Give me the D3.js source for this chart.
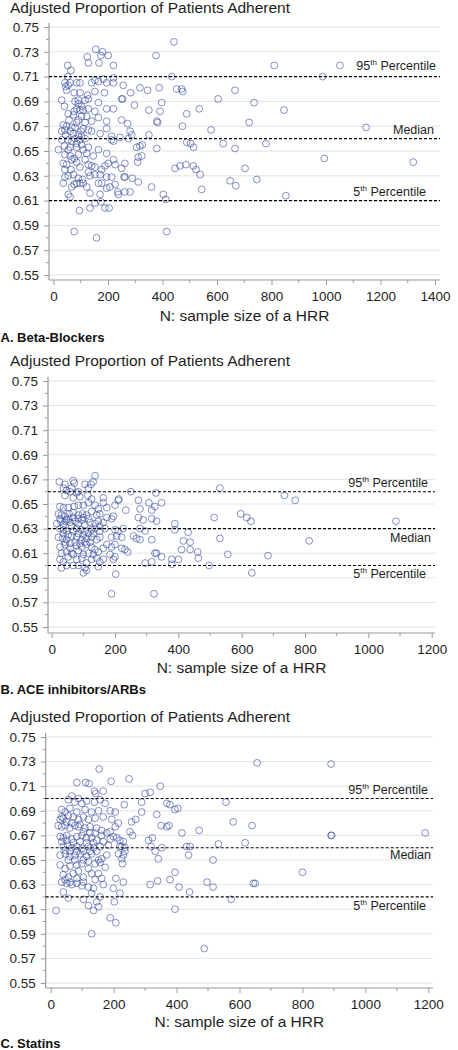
<!DOCTYPE html>
<html><head><meta charset="utf-8">
<script src="https://cdn.jsdelivr.net/npm/d3@7"></script>
<style>body{margin:0;background:#fff;} svg{display:block;font-family:Arial,"Liberation Sans",sans-serif;}</style>
</head><body><svg id="c" width="458" height="1050"></svg>
<script>
// ---------- DATA ----------
const yTickValues = [0.55,0.57,0.59,0.61,0.63,0.65,0.67,0.69,0.71,0.73,0.75];
const xTicksA = [0,200,400,600,800,1000,1200,1400];
const xTicksBC = [0,200,400,600,800,1000,1200];
const refNames = ["5th Percentile","Median","95th Percentile"];
const refBeta = [0.61,0.66,0.71];
const refAce = [0.60,0.63,0.66];
const refStatin = [0.62,0.66,0.70];
const panelLabels = ["A. Beta-Blockers","B. ACE inhibitors/ARBs","C. Statins"];
const yTitle = "Adjusted Proportion of Patients Adherent";
const xTitle = "N: sample size of a HRR";

// [N, adjusted proportion]
const betaBlockers = [
[155,.732],[180,.730],[201,.727],[174,.727],[124,.726],[128,.721],[167,.721],[220,.719],[52,.719],[64,.715],[376,.727],[442,.738],
[52,.710],[42,.705],[54,.703],[85,.705],[97,.705],[140,.705],[152,.707],[165,.706],[183,.708],[195,.705],[220,.709],[220,.705],[256,.703],[434,.710],[317,.701],[345,.699],[388,.701],[452,.700],[470,.700],[474,.698],[283,.697],
[48,.699],[76,.697],[97,.697],[125,.695],[152,.698],[187,.697],[250,.692],[253,.692],[297,.687],[30,.691],[79,.690],[91,.691],[116,.691],[128,.692],[165,.689],[397,.689],[350,.683],[391,.682],[489,.680],[535,.684],
[85,.684],[97,.683],[109,.683],[128,.684],[152,.682],[195,.684],[220,.684],[54,.680],[73,.679],[103,.678],[122,.678],[165,.677],[250,.675],[272,.672],[195,.674],[379,.674],[382,.673],[473,.670],[36,.671],[48,.670],[67,.669],[85,.673],[116,.673],[140,.674],[42,.667],[30,.666],
[61,.666],[91,.663],[103,.662],[128,.667],[140,.666],[171,.664],[195,.668],[281,.666],[287,.663],[275,.660],[213,.662],[244,.661],[350,.663],[79,.660],[97,.659],[116,.660],[54,.659],[67,.658],
[18,.651],[40,.654],[61,.653],[85,.653],[103,.655],[128,.653],[165,.651],[213,.659],[220,.658],[305,.653],[317,.654],[326,.655],[379,.652],[489,.657],[503,.656],[514,.653],[42,.647],[61,.646],[91,.647],[122,.648],[195,.648],[311,.645],[324,.646],[220,.643],
[36,.640],[48,.639],[67,.643],[85,.641],[128,.639],[140,.638],[189,.638],[201,.640],[226,.639],[250,.636],[262,.640],[309,.641],[446,.636],[464,.638],[486,.639],[513,.638],[523,.635],[538,.631],[544,.619],[42,.629],[54,.630],[73,.631],[128,.633],[134,.630],[152,.631],[171,.631],[195,.629],[213,.629],[259,.629],[262,.629],[289,.628],[311,.625],
[67,.621],[76,.623],[85,.624],[97,.624],[109,.624],[165,.624],[177,.624],[195,.620],[207,.621],[226,.623],[236,.617],[238,.615],[262,.617],[281,.617],[134,.616],[54,.615],[61,.613],[171,.615],[360,.621],[403,.615],[412,.611],
[152,.608],[174,.609],[189,.604],[204,.604],[95,.602],[134,.604],[76,.585],[158,.580],[415,.585],
[45,.702],[61,.705],[40,.686],[91,.688],[103,.686],[76,.682],[57,.675],[91,.675],[79,.669],[109,.668],[45,.663],[73,.664],[101,.666],[30,.659],[85,.656],[109,.651],[54,.651],[76,.644],[97,.637],[42,.635],[64,.635],[116,.643],[36,.624],[91,.628],[107,.627],[122,.621],[146,.646],[152,.637],[177,.635],
[810,.719],[1051,.719],[988,.710],[604,.692],[666,.699],[736,.689],[846,.683],[718,.673],[1147,.669],[578,.667],[623,.656],[666,.652],[780,.656],[994,.644],[1320,.641],[703,.636],[648,.626],[669,.622],[746,.627],[853,.614]
];

const aceArbs = [
[24,.668],[42,.666],[68,.669],[71,.667],[63,.663],[105,.666],[124,.666],[131,.668],[137,.673],[37,.663],[47,.661],[58,.660],[79,.659],[84,.660],[116,.663],[250,.660],[329,.659],
[42,.657],[68,.655],[89,.656],[114,.657],[126,.654],[163,.655],[212,.654],[210,.653],[274,.653],[307,.651],[326,.648],[347,.651],[26,.648],[37,.647],[52,.647],[71,.648],[84,.649],[100,.649],[116,.651],[137,.649],[147,.646],[163,.651],[174,.647],[200,.649],[234,.645],[279,.646],[316,.645],
[21,.642],[31,.641],[42,.640],[55,.642],[68,.643],[84,.641],[97,.642],[110,.641],[126,.644],[142,.641],[152,.642],[174,.639],[195,.640],[16,.634],[29,.636],[37,.633],[47,.637],[58,.635],[74,.636],[84,.634],[95,.637],[105,.633],[121,.635],[147,.636],[163,.635],[189,.638],[274,.639],[289,.637],[316,.638],[331,.636],[389,.634],
[26,.630],[37,.629],[47,.628],[63,.632],[79,.630],[92,.629],[105,.628],[126,.629],[137,.630],[152,.628],[168,.630],[200,.629],[210,.628],[226,.630],[279,.630],[295,.628],[389,.629],[431,.627],
[21,.623],[34,.622],[47,.621],[63,.624],[79,.623],[95,.621],[110,.622],[126,.623],[142,.621],[152,.623],[189,.623],[205,.624],[221,.623],[258,.624],[268,.622],[279,.621],[316,.621],[416,.620],[437,.619],
[26,.615],[42,.617],[58,.614],[79,.616],[95,.615],[110,.617],[126,.615],[137,.613],[189,.615],[200,.617],[221,.614],[231,.613],[240,.611],[326,.610],[331,.610],[410,.613],[437,.613],[461,.611],
[26,.605],[37,.603],[52,.607],[68,.609],[79,.605],[95,.606],[110,.602],[126,.605],[142,.606],[152,.603],[163,.605],[184,.609],[200,.607],[195,.605],[295,.602],[316,.603],[347,.607],[379,.605],[400,.605],[379,.601],[463,.606],
[31,.598],[47,.600],[68,.600],[84,.600],[105,.598],[110,.596],[147,.599],[100,.594],[202,.593],[189,.577],[323,.577],
[26,.638],[42,.636],[52,.638],[68,.639],[84,.638],[100,.639],[116,.638],[37,.626],[52,.625],[68,.628],[84,.626],[100,.625],[116,.626],[131,.626],[42,.619],[58,.618],[74,.619],[89,.618],[105,.619],[121,.619],[31,.610],[47,.611],[63,.610],[84,.612],[100,.609],[116,.610],[131,.609],[147,.611],[163,.614],[174,.617],[137,.634],[152,.632],
[531,.663],[513,.639],[531,.622],[556,.609],[497,.600],[597,.642],[616,.639],[629,.636],[632,.594],[683,.608],[735,.657],[769,.653],[813,.620],[1087,.636]
];

const statins = [
[154,.724],[83,.713],[111,.713],[122,.712],[192,.714],[249,.716],[348,.710],[139,.706],[167,.706],[143,.704],[67,.702],[300,.704],[316,.705],[88,.700],
[56,.699],[77,.697],[99,.696],[114,.698],[139,.697],[157,.699],[173,.696],[234,.695],[289,.697],[369,.696],[379,.695],[395,.691],[404,.692],[35,.691],[46,.689],[61,.692],[83,.689],[109,.691],[130,.689],[152,.690],[189,.690],[205,.689],[289,.689],[337,.687],
[30,.683],[40,.684],[56,.686],[72,.685],[88,.683],[104,.685],[120,.683],[141,.684],[167,.685],[194,.683],[215,.680],[257,.681],[270,.683],[472,.674],
[24,.678],[35,.677],[46,.678],[61,.676],[77,.678],[93,.679],[109,.676],[125,.677],[146,.676],[162,.674],[178,.672],[189,.673],[205,.677],[252,.673],[260,.670],[351,.678],[369,.677],[376,.678],[417,.672],
[30,.669],[40,.668],[51,.670],[67,.667],[83,.669],[99,.670],[114,.668],[130,.668],[146,.666],[162,.670],[189,.667],[210,.668],[231,.665],[311,.666],[323,.668],[319,.661],[432,.661],[443,.661],
[40,.661],[54,.662],[67,.660],[83,.661],[99,.659],[120,.661],[136,.660],[157,.661],[183,.662],[220,.661],[236,.660],[353,.660],[332,.657],
[30,.654],[46,.655],[61,.653],[77,.654],[93,.655],[114,.653],[130,.655],[152,.650],[162,.651],[178,.654],[215,.655],[231,.654],[228,.647],[226,.651],[342,.651],[438,.654],
[30,.646],[46,.643],[61,.645],[83,.646],[99,.647],[120,.643],[141,.647],[157,.648],[173,.644],[40,.638],[56,.636],[72,.639],[88,.641],[104,.636],[130,.639],[152,.639],[207,.635],[231,.632],[395,.640],[379,.634],[340,.633],[316,.630],
[35,.632],[51,.631],[67,.630],[83,.631],[99,.629],[120,.628],[136,.627],[167,.630],[199,.627],[220,.623],[40,.624],[56,.619],[104,.618],[130,.623],[157,.620],[120,.613],[146,.616],[202,.616],[152,.612],[136,.609],[17,.609],[395,.610],[408,.628],[441,.624],
[189,.603],[207,.599],[130,.590],
[35,.685],[51,.681],[67,.680],[88,.677],[104,.673],[125,.672],[141,.672],[35,.665],[51,.666],[72,.664],[93,.665],[114,.664],[136,.664],[167,.665],[46,.658],[61,.657],[83,.657],[104,.657],[125,.657],[146,.657],[56,.650],[77,.650],[104,.650],[120,.649],[46,.634],[61,.632],[83,.635],[104,.632],[141,.634],[162,.635],[199,.669],[220,.666],[236,.657],[226,.661],
[656,.729],[891,.728],[557,.697],[580,.681],[640,.678],[533,.663],[618,.664],[516,.650],[891,.670],[893,.670],[1190,.672],[800,.640],[497,.632],[516,.628],[644,.631],[650,.631],[574,.618],[488,.578]
];

// ---------- LAYOUT ----------
const panels = [
 {data:betaBlockers, refs:refBeta, xTicks:xTicksA, xMax:1400, label:panelLabels[0],
  x0:53.5, x1:435, left:49, right:440, yTop:27, yBot:275, axisY:280, titleY:13, xTitleY:321, labelY:342,
  refPos:[[-14,-4.5],[-6,-4.5],[-4,-7]]},
 {data:aceArbs, refs:refAce, xTicks:xTicksBC, xMax:1200, label:panelLabels[1],
  x0:51.7, x1:431.7, left:48, right:435, yTop:381, yBot:627, axisY:633, titleY:366, xTitleY:673, labelY:694,
  refPos:[[-9,12.7],[-4,13.5],[-7,-5]]},
 {data:statins, refs:refStatin, xTicks:xTicksBC, xMax:1200, label:panelLabels[2],
  x0:50.7, x1:428.3, left:45.7, right:433, yTop:737, yBot:983, axisY:988, titleY:722, xTitleY:1027, labelY:1048,
  refPos:[[-7,12.7],[-2,11.5],[-5,-5]]}
];

const svg = d3.select("#c");
const axisColor = "#9a9a9a", textColor = "#1e1e1e";

panels.forEach(p => {
  const g = svg.append("g");
  const x = d3.scaleLinear().domain([0, p.xMax]).range([p.x0, p.x1]);
  const y = d3.scaleLinear().domain([0.55, 0.75]).range([p.yBot, p.yTop]);

  // gridlines
  g.append("g").selectAll("line").data(yTickValues).join("line")
    .attr("x1", p.left).attr("x2", p.right)
    .attr("y1", d => y(d)).attr("y2", d => y(d))
    .attr("stroke", "#e3e3e3").attr("stroke-width", 1);

  // y axis
  const yAx = g.append("g").attr("transform", `translate(${p.left},0)`)
    .call(d3.axisLeft(y).tickValues(yTickValues).tickFormat(d3.format(".2f")).tickSize(5).tickPadding(5));
  yAx.select(".domain").remove();
  yAx.selectAll("line").attr("stroke", axisColor);
  yAx.selectAll("text").attr("font-size", 13.5).attr("fill", textColor).attr("font-family", "Arial, 'Liberation Sans', sans-serif");
  const yMinor = d3.range(0.56, 0.75, 0.02);
  g.append("g").selectAll("line").data(yMinor).join("line")
    .attr("x1", p.left - 3).attr("x2", p.left).attr("y1", d => y(d)).attr("y2", d => y(d))
    .attr("stroke", axisColor);
  g.append("line").attr("x1", p.left).attr("x2", p.left)
    .attr("y1", y(0.7535)).attr("y2", p.axisY).attr("stroke", axisColor).attr("stroke-width", 1.2);

  // x axis
  const xAx = g.append("g").attr("transform", `translate(0,${p.axisY})`)
    .call(d3.axisBottom(x).tickValues(p.xTicks).tickFormat(d3.format("d")).tickSize(5).tickPadding(6.4));
  xAx.select(".domain").remove();
  xAx.selectAll("line").attr("stroke", axisColor);
  xAx.selectAll("text").attr("font-size", 13.5).attr("fill", textColor).attr("font-family", "Arial, 'Liberation Sans', sans-serif");
  const xMinor = d3.range(100, p.xMax + 1, 200);
  g.append("g").selectAll("line").data(xMinor).join("line")
    .attr("x1", d => x(d)).attr("x2", d => x(d)).attr("y1", p.axisY).attr("y2", p.axisY + 3)
    .attr("stroke", axisColor);
  g.append("line").attr("x1", p.left).attr("x2", p.right)
    .attr("y1", p.axisY).attr("y2", p.axisY).attr("stroke", axisColor).attr("stroke-width", 1.2);

  // points
  g.append("g").selectAll("circle").data(p.data).join("circle")
    .attr("cx", d => x(d[0])).attr("cy", d => y(d[1])).attr("r", 3.4)
    .attr("fill", "none").attr("stroke", "#34479c").attr("stroke-opacity", 0.6).attr("stroke-width", 1);

  // reference lines
  p.refs.forEach((v, i) => {
    g.append("line").attr("x1", p.left).attr("x2", p.right)
      .attr("y1", y(v)).attr("y2", y(v))
      .attr("stroke", "#000").attr("stroke-width", 1.1).attr("stroke-dasharray", "3,2");
    const t = g.append("text").attr("x", p.right + p.refPos[i][0]).attr("y", y(v) + p.refPos[i][1])
      .attr("text-anchor", "end").attr("font-size", 12.5).attr("fill", textColor);
    const name = refNames[i];
    if (name.includes("th ")) {
      const num = name.split("th ")[0], rest = name.split("th ")[1];
      t.append("tspan").text(num);
      t.append("tspan").text("th").attr("font-size", 8).attr("dy", -5);
      t.append("tspan").text(" " + rest).attr("dy", 5);
    } else t.text(name);
  });

  // titles
  g.append("text").attr("x", 10).attr("y", p.titleY).attr("font-size", 15.5).attr("fill", textColor).text(yTitle);
  g.append("text").attr("x", (p.left + p.right) / 2).attr("y", p.xTitleY).attr("text-anchor", "middle")
    .attr("font-size", 15.5).attr("fill", textColor).text(xTitle);
  g.append("text").attr("x", 0.5).attr("y", p.labelY).attr("font-size", 13).attr("font-weight", "bold")
    .attr("fill", "#111").text(p.label);
});
</script></body></html>
